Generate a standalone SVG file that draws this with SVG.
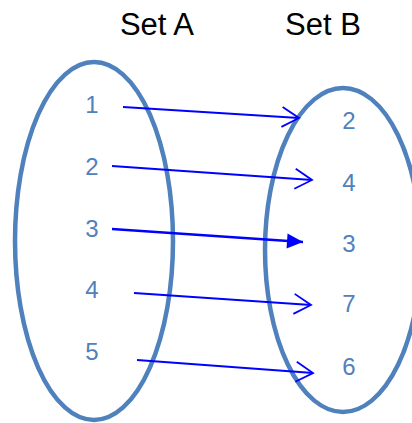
<svg xmlns="http://www.w3.org/2000/svg" width="412" height="423" viewBox="0 0 412 423">
  <defs>
    <style>
      .set { fill: none; stroke: #4f81bd; stroke-width: 4.5; }
      .title { font-family: "Liberation Sans", Arial, sans-serif; font-size: 31px; fill: #000; text-anchor: middle; }
      .num { font-family: "Liberation Sans", Arial, sans-serif; font-size: 24px; fill: #4f81bd; text-anchor: middle; }
      .link { fill: none; stroke: #0000ff; stroke-width: 1.8; }
      .link.bold { stroke-width: 2.6; }
    </style>
    <marker id="open" markerUnits="userSpaceOnUse" viewBox="0 0 20 22" markerWidth="20" markerHeight="22" refX="18" refY="11" orient="auto" overflow="visible">
      <path d="M1,1 L18,11 L1,21" fill="none" stroke="#0000ff" stroke-width="1.8"/>
    </marker>
    <marker id="solid" markerUnits="userSpaceOnUse" viewBox="0 0 17 15" markerWidth="17" markerHeight="15" refX="16" refY="7.5" orient="auto" overflow="visible">
      <path d="M0,0 L16,7.5 L0,15 z" fill="#0000ff"/>
    </marker>
  </defs>

  <rect width="412" height="423" fill="#fff"/>

  <g id="setA">
    <ellipse class="set" cx="94" cy="241" rx="79" ry="179"/>
    <text class="title" x="157" y="35">Set A</text>
  </g>
  <g id="setB">
    <ellipse class="set" cx="343" cy="250" rx="78" ry="162"/>
    <text class="title" x="323" y="35">Set B</text>
  </g>

  <g id="a1"><text class="num" x="92" y="113">1</text></g>
  <g id="a2"><text class="num" x="92" y="175">2</text></g>
  <g id="a3"><text class="num" x="92" y="237">3</text></g>
  <g id="a4"><text class="num" x="92" y="298">4</text></g>
  <g id="a5"><text class="num" x="92" y="360">5</text></g>

  <g id="b2"><text class="num" x="349" y="129">2</text></g>
  <g id="b4"><text class="num" x="349" y="191">4</text></g>
  <g id="b3"><text class="num" x="349" y="252">3</text></g>
  <g id="b7"><text class="num" x="349" y="312">7</text></g>
  <g id="b6"><text class="num" x="349" y="375">6</text></g>

  <g id="connectors">
    <line class="link" x1="123" y1="107" x2="299" y2="118" marker-end="url(#open)"/>
    <line class="link" x1="112" y1="166" x2="312" y2="180" marker-end="url(#open)"/>
    <line class="link bold" x1="112" y1="229" x2="303" y2="242" marker-end="url(#solid)"/>
    <line class="link" x1="134" y1="293" x2="311" y2="305" marker-end="url(#open)"/>
    <line class="link" x1="137" y1="360" x2="313" y2="373" marker-end="url(#open)"/>
  </g>
</svg>
